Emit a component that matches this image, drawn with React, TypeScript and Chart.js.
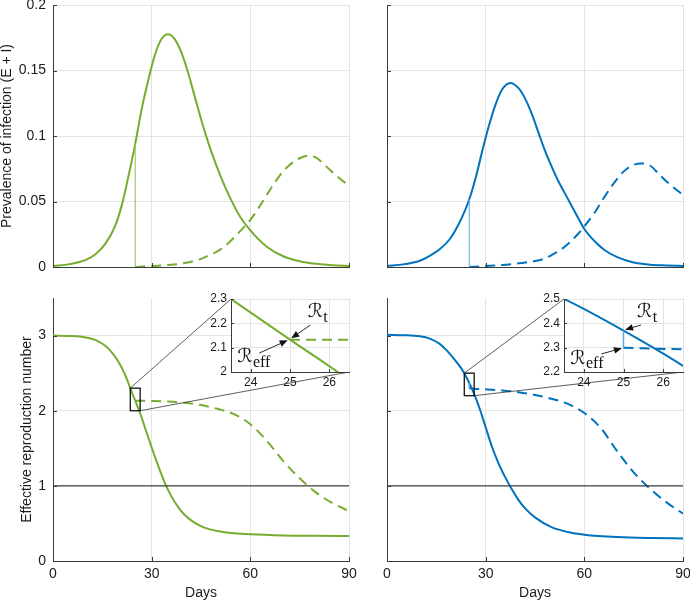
import React, { useEffect, useRef } from 'react';
import { Chart, registerables } from 'chart.js';
Chart.register(...registerables);

// ---------------- data ----------------
const dayTicks = [0, 30, 60, 90];
const dayTickLabels = ['0', '30', '60', '90'];
const prevTicks = [0, 0.05, 0.1, 0.15, 0.2];
const prevTickLabels = ['0', '0.05', '0.1', '0.15', '0.2'];
const rTicks = [0, 1, 2, 3];
const rTickLabels = ['0', '1', '2', '3'];
const insetDayTicks = [24, 25, 26];
const insetDayTickLabels = ['24', '25', '26'];
const greenInsetTicks = [2, 2.1, 2.2, 2.3];
const greenInsetTickLabels = ['2', '2.1', '2.2', '2.3'];
const blueInsetTicks = [2.2, 2.3, 2.4, 2.5];
const blueInsetTickLabels = ['2.2', '2.3', '2.4', '2.5'];

const dayRange = [0, 90];
const prevRange = [0, 0.2];
const rRange = [0, 3.5];
const insetDayRange = [23.5, 26.5];
const greenInsetRange = [2, 2.3];
const blueInsetRange = [2.2, 2.5];
const interventionDay = 25;
const threshold = 1;

// Green scenario – prevalence
const greenPrevDays = [0, 5, 10, 13, 16, 19, 21, 23, 25, 27, 29, 31, 33, 35, 37, 39, 41, 43, 45, 48, 51, 54, 57, 60, 65, 70, 75, 80, 85, 90];
const greenPrevSolid = [0.0008, 0.0022, 0.0055, 0.010, 0.018, 0.032, 0.048, 0.070, 0.094, 0.121, 0.143, 0.162, 0.174, 0.1777, 0.174, 0.164, 0.149, 0.131, 0.113, 0.089, 0.069, 0.052, 0.038, 0.028, 0.0155, 0.0082, 0.0044, 0.0024, 0.0013, 0.0008];
const greenPrevDashDays = [25, 30, 35, 40, 45, 48, 50, 53, 56, 60, 63, 66, 69, 72, 75, 77.5, 80, 83, 86, 90];
const greenPrevDash = [0, 0.0008, 0.0015, 0.003, 0.0062, 0.0095, 0.012, 0.0175, 0.025, 0.036, 0.047, 0.059, 0.070, 0.078, 0.083, 0.085, 0.0835, 0.077, 0.070, 0.062];

// Blue scenario – prevalence
const bluePrevDays = [0, 5, 10, 13, 16, 19, 21, 23, 25, 27, 29, 31, 33, 35, 37.5, 40, 42, 44, 46, 48, 50, 52, 55, 58, 60, 63, 66, 70, 75, 80, 85, 90];
const bluePrevSolid = [0.0008, 0.002, 0.0048, 0.0085, 0.0135, 0.021, 0.029, 0.039, 0.0515, 0.0685, 0.089, 0.108, 0.124, 0.1355, 0.1405, 0.1365, 0.1285, 0.117, 0.103, 0.089, 0.077, 0.066, 0.052, 0.038, 0.029, 0.020, 0.0132, 0.0075, 0.0034, 0.0018, 0.0012, 0.0008];
const bluePrevDashDays = [25, 30, 35, 40, 45, 48, 50, 53, 55, 58, 60, 63, 66, 69, 72, 75, 77.6, 80, 83, 86, 90];
const bluePrevDash = [0, 0.0007, 0.0015, 0.0028, 0.0045, 0.0065, 0.009, 0.0135, 0.0175, 0.025, 0.031, 0.041, 0.053, 0.064, 0.073, 0.078, 0.079, 0.0775, 0.070, 0.063, 0.055];

// Green scenario – effective reproduction number
const greenRDays = [0, 5, 10, 13, 16, 18, 20, 22, 23.5, 25, 26.5, 28, 30, 32, 34, 36, 38, 40, 43, 46, 50, 55, 60, 70, 80, 90];
const greenRSolid = [3.0, 2.995, 2.975, 2.94, 2.86, 2.77, 2.645, 2.47, 2.30, 2.133, 1.966, 1.77, 1.51, 1.265, 1.04, 0.86, 0.72, 0.615, 0.51, 0.445, 0.40, 0.37, 0.355, 0.34, 0.335, 0.333];
const greenRDashDays = [25, 26.5, 30, 35, 40, 45, 50, 55, 60, 65, 70, 75, 80, 85, 90];
const greenRDash = [2.133, 2.132, 2.13, 2.122, 2.105, 2.075, 2.025, 1.955, 1.82, 1.60, 1.33, 1.10, 0.91, 0.77, 0.665];

// Blue scenario – effective reproduction number
const blueRDays = [0, 5, 10, 13, 16, 18, 20, 22, 23.5, 25, 26.5, 28, 30, 32, 34, 36, 38, 40, 42, 45, 50, 55, 60, 70, 80, 90];
const blueRSolid = [3.01, 3.005, 2.99, 2.96, 2.89, 2.81, 2.71, 2.60, 2.50, 2.37, 2.225, 2.05, 1.78, 1.51, 1.29, 1.11, 0.95, 0.81, 0.70, 0.58, 0.45, 0.385, 0.35, 0.318, 0.305, 0.30];
const blueRDashDays = [25, 26.5, 30, 35, 40, 45, 50, 55, 60, 65, 70, 75, 80, 85, 90];
const blueRDash = [2.30, 2.293, 2.285, 2.27, 2.245, 2.21, 2.16, 2.09, 1.97, 1.77, 1.46, 1.18, 0.96, 0.78, 0.63];

// ---------------- style / layout ----------------
const FONT = 'Helvetica, "Liberation Sans", Arial, sans-serif';
const GREEN = '#77AC30';
const GREEN_LIGHT = '#8fc24f';
const BLUE = '#0072BD';
const BLUE_LIGHT = '#5aa9dc';
const GRID = '#e3e3e3';
const AXIS = '#3a3a3a';
const TEXT = '#1a1a1a';

const G: any = {
  tl: { cl: 0, ct: 0, cw: 360, ch: 290, left: 53, top: 5, right: 349, bottom: 267 },
  tr: { cl: 345, ct: 0, cw: 345, ch: 290, left: 387, top: 5, right: 683, bottom: 267 },
  bl: { cl: 0, ct: 290, cw: 360, ch: 313, left: 53, top: 298, right: 349, bottom: 561 },
  br: { cl: 345, ct: 290, cw: 345, ch: 313, left: 387, top: 298, right: 683, bottom: 561 },
  il: { cl: 190, ct: 288, cw: 165, ch: 108, left: 231, top: 299, right: 349, bottom: 372 },
  ir: { cl: 524, ct: 288, cw: 166, ch: 108, left: 564, top: 299, right: 683, bottom: 372 },
};

const valAt = (days: number[], vals: number[], d: number) => vals[days.indexOf(d)];

function series(days: number[], vals: number[], color: string, dash: number[] = [], width = 2) {
  return {
    data: days.map((d, i) => ({ x: d, y: vals[i] })),
    borderColor: color,
    borderWidth: width,
    borderDash: dash,
    pointRadius: 0,
    fill: false,
    cubicInterpolationMode: 'monotone',
  };
}
function segment(x0: number, y0: number, x1: number, y1: number, color: string, width = 1) {
  return { data: [{ x: x0, y: y0 }, { x: x1, y: y1 }], borderColor: color, borderWidth: width, pointRadius: 0, fill: false, tension: 0 };
}

function drawArrow(ctx: CanvasRenderingContext2D, x1: number, y1: number, x2: number, y2: number) {
  const a = Math.atan2(y2 - y1, x2 - x1);
  const L = 8, W = 3.3;
  const bx = x2 - L * Math.cos(a), by = y2 - L * Math.sin(a);
  ctx.beginPath(); ctx.moveTo(x1, y1); ctx.lineTo(bx, by); ctx.stroke();
  ctx.beginPath(); ctx.moveTo(x2, y2);
  ctx.lineTo(bx + W * Math.sin(a), by - W * Math.cos(a));
  ctx.lineTo(bx - W * Math.sin(a), by + W * Math.cos(a));
  ctx.closePath(); ctx.fill();
}

function makeDecor(cfg: any) {
  return {
    id: 'decor',
    beforeDraw(chart: any) {
      if (!cfg.white) return;
      const { ctx, chartArea: a } = chart;
      ctx.save(); ctx.fillStyle = '#fff';
      ctx.fillRect(a.left, a.top, a.right - a.left, a.bottom - a.top);
      ctx.restore();
    },
    afterDraw(chart: any) {
      const { ctx, chartArea: a } = chart;
      const xs = chart.scales.x, ys = chart.scales.y;
      ctx.save();
      ctx.strokeStyle = AXIS; ctx.lineWidth = 1;
      ctx.beginPath();
      for (const v of cfg.xTicks) {
        const px = Math.round(xs.getPixelForValue(v)) + 0.5;
        ctx.moveTo(px, a.bottom); ctx.lineTo(px, a.bottom - cfg.tickLen);
      }
      for (const v of cfg.yTicks) {
        const py = Math.round(ys.getPixelForValue(v)) + 0.5;
        ctx.moveTo(a.left, py); ctx.lineTo(a.left + cfg.tickLen, py);
      }
      ctx.stroke();
      if (cfg.zoom) {
        const z = cfg.zoom;
        const inset = z.get();
        const x0 = xs.getPixelForValue(z.xr[0]), x1 = xs.getPixelForValue(z.xr[1]);
        const y0 = ys.getPixelForValue(z.yr[1]), y1 = ys.getPixelForValue(z.yr[0]);
        ctx.strokeStyle = '#111'; ctx.lineWidth = 1.3;
        ctx.strokeRect(x0, y0, x1 - x0, y1 - y0);
        if (inset) {
          const ia = inset.chartArea;
          ctx.strokeStyle = '#333'; ctx.lineWidth = 0.8;
          ctx.beginPath();
          ctx.moveTo(x0, y0); ctx.lineTo(ia.left + z.dx, ia.top + z.dy);
          ctx.moveTo(x1, y1); ctx.lineTo(ia.right + z.dx, ia.bottom + z.dy);
          ctx.stroke();
        }
      }
      if (cfg.notes) {
        ctx.strokeStyle = '#111'; ctx.fillStyle = '#111'; ctx.lineWidth = 0.9;
        for (const n of cfg.notes) {
          drawArrow(ctx, xs.getPixelForValue(n.sx), ys.getPixelForValue(n.sy), xs.getPixelForValue(n.ex), ys.getPixelForValue(n.ey));
          const px = xs.getPixelForValue(n.tx), py = ys.getPixelForValue(n.ty);
          ctx.textBaseline = 'middle'; ctx.textAlign = 'left';
          ctx.font = '19px "DejaVu Serif", "DejaVu Sans", serif';
          ctx.fillText(n.main, px, py);
          const w = ctx.measureText(n.main).width;
          ctx.font = '16px "Liberation Serif", "DejaVu Serif", serif';
          ctx.fillText(n.sub, px + w + 0.5, py + 5);
        }
      }
      ctx.restore();
    },
  };
}

function buildConfig(g: any, o: any) {
  const font = { family: FONT, size: o.fontSize, lineHeight: 1 };
  return {
    type: 'line',
    data: { datasets: o.datasets },
    options: {
      animation: false,
      responsive: false,
      devicePixelRatio: 1,
      events: [],
      layout: { padding: { left: 0, bottom: 0, top: g.top - g.ct, right: g.cl + g.cw - g.right } },
      plugins: { legend: { display: false }, tooltip: { enabled: false } },
      scales: {
        x: {
          type: 'linear', bounds: 'data', min: o.xr[0], max: o.xr[1],
          afterBuildTicks: (s: any) => { s.ticks = o.xTicks.map((v: number) => ({ value: v })); },
          afterFit: (s: any) => { s.height = g.ct + g.ch - g.bottom; s.paddingLeft = 0; s.paddingRight = 0; },
          ticks: { display: o.xLabels, autoSkip: false, maxRotation: 0, padding: o.xPad, color: TEXT, font, callback: (_v: any, i: number) => o.xTickLabels[i] },
          grid: { color: GRID, lineWidth: 1, drawTicks: false },
          border: { display: true, color: AXIS, width: 1 },
          title: { display: !!o.xTitle, text: o.xTitle || '', color: TEXT, font: { family: FONT, size: 14, lineHeight: 1 }, padding: { top: 0, bottom: o.xTitlePad || 0 } },
        },
        y: {
          type: 'linear', bounds: 'data', min: o.yr[0], max: o.yr[1],
          afterBuildTicks: (s: any) => { s.ticks = o.yTicks.map((v: number) => ({ value: v })); },
          afterFit: (s: any) => { s.width = g.left - g.cl; s.paddingTop = 0; s.paddingBottom = 0; },
          ticks: { display: o.yLabels, autoSkip: false, padding: o.yPad, color: TEXT, font, callback: (_v: any, i: number) => o.yTickLabels[i] },
          grid: { color: GRID, lineWidth: 1, drawTicks: false },
          border: { display: true, color: AXIS, width: 1 },
          title: { display: !!o.yTitle, text: o.yTitle || '', color: TEXT, font: { family: FONT, size: 14, lineHeight: 1 }, padding: { top: o.yTitlePad || 0, bottom: 0 } },
        },
      },
    },
    plugins: [makeDecor(o.decor)],
  };
}

export default function App() {
  const tl = useRef<HTMLCanvasElement>(null);
  const tr = useRef<HTMLCanvasElement>(null);
  const bl = useRef<HTMLCanvasElement>(null);
  const br = useRef<HTMLCanvasElement>(null);
  const il = useRef<HTMLCanvasElement>(null);
  const ir = useRef<HTMLCanvasElement>(null);

  useEffect(() => {
    const charts: any[] = [];
    const gPrev25 = valAt(greenPrevDays, greenPrevSolid, interventionDay);
    const bPrev25 = valAt(bluePrevDays, bluePrevSolid, interventionDay);
    const gR25 = valAt(greenRDays, greenRSolid, interventionDay);
    const gRe25 = valAt(greenRDashDays, greenRDash, interventionDay);
    const bR25 = valAt(blueRDays, blueRSolid, interventionDay);
    const bRe25 = valAt(blueRDashDays, blueRDash, interventionDay);

    const greenR = () => [
      segment(interventionDay, gRe25, interventionDay, gR25, GREEN_LIGHT, 1.5),
      series(greenRDays, greenRSolid, GREEN),
      series(greenRDashDays, greenRDash, GREEN, [10, 6]),
    ];
    const blueR = () => [
      segment(interventionDay, bRe25, interventionDay, bR25, BLUE_LIGHT, 1.5),
      series(blueRDays, blueRSolid, BLUE),
      series(blueRDashDays, blueRDash, BLUE, [10, 6]),
    ];

    // insets first (main charts read their chart areas)
    const insetL = new Chart(il.current as any, buildConfig(G.il, {
      datasets: greenR(), fontSize: 12, xr: insetDayRange, yr: greenInsetRange,
      xTicks: insetDayTicks, xTickLabels: insetDayTickLabels, yTicks: greenInsetTicks, yTickLabels: greenInsetTickLabels,
      xLabels: true, yLabels: true, xPad: 5, yPad: 4,
      decor: {
        white: true, xTicks: insetDayTicks, yTicks: greenInsetTicks, tickLen: 3,
        notes: [
          { main: 'ℛ', sub: 't', tx: 25.45, ty: 2.245, sx: 25.52, sy: 2.193, ex: 25.03, ey: 2.139 },
          { main: 'ℛ', sub: 'eff', tx: 23.66, ty: 2.06, sx: 24.22, sy: 2.078, ex: 24.94, ey: 2.13 },
        ],
      },
    }) as any);
    const insetR = new Chart(ir.current as any, buildConfig(G.ir, {
      datasets: blueR(), fontSize: 12, xr: insetDayRange, yr: blueInsetRange,
      xTicks: insetDayTicks, xTickLabels: insetDayTickLabels, yTicks: blueInsetTicks, yTickLabels: blueInsetTickLabels,
      xLabels: true, yLabels: true, xPad: 5, yPad: 4,
      decor: {
        white: true, xTicks: insetDayTicks, yTicks: blueInsetTicks, tickLen: 3,
        notes: [
          { main: 'ℛ', sub: 't', tx: 25.34, ty: 2.445, sx: 25.44, sy: 2.393, ex: 25.04, ey: 2.374 },
          { main: 'ℛ', sub: 'eff', tx: 23.66, ty: 2.253, sx: 24.44, sy: 2.274, ex: 24.96, ey: 2.298 },
        ],
      },
    }) as any);
    charts.push(insetL, insetR);

    charts.push(new Chart(tl.current as any, buildConfig(G.tl, {
      datasets: [
        segment(interventionDay, 0, interventionDay, gPrev25, GREEN_LIGHT, 1),
        series(greenPrevDays, greenPrevSolid, GREEN),
        series(greenPrevDashDays, greenPrevDash, GREEN, [10, 6]),
      ],
      fontSize: 14, xr: dayRange, yr: prevRange, xTicks: dayTicks, xTickLabels: dayTickLabels,
      yTicks: prevTicks, yTickLabels: prevTickLabels, xLabels: false, yLabels: true, xPad: 6, yPad: 7,
      yTitle: 'Prevalence of infection (E + I)', yTitlePad: 0,
      decor: { xTicks: dayTicks, yTicks: prevTicks, tickLen: 4 },
    }) as any));
    charts.push(new Chart(tr.current as any, buildConfig(G.tr, {
      datasets: [
        segment(interventionDay, 0, interventionDay, bPrev25, BLUE_LIGHT, 1),
        series(bluePrevDays, bluePrevSolid, BLUE),
        series(bluePrevDashDays, bluePrevDash, BLUE, [10, 6]),
      ],
      fontSize: 14, xr: dayRange, yr: prevRange, xTicks: dayTicks, xTickLabels: dayTickLabels,
      yTicks: prevTicks, yTickLabels: prevTickLabels, xLabels: false, yLabels: false, xPad: 6, yPad: 7,
      decor: { xTicks: dayTicks, yTicks: prevTicks, tickLen: 4 },
    }) as any));
    charts.push(new Chart(bl.current as any, buildConfig(G.bl, {
      datasets: [segment(dayRange[0], threshold, dayRange[1], threshold, '#404040', 1.2), ...greenR()],
      fontSize: 14, xr: dayRange, yr: rRange, xTicks: dayTicks, xTickLabels: dayTickLabels,
      yTicks: rTicks, yTickLabels: rTickLabels, xLabels: true, yLabels: true, xPad: 6, yPad: 7,
      yTitle: 'Effective reproduction number', yTitlePad: 20, xTitle: 'Days', xTitlePad: 3,
      decor: {
        xTicks: dayTicks, yTicks: rTicks, tickLen: 4,
        zoom: { get: () => insetL, dx: G.il.cl - G.bl.cl, dy: G.il.ct - G.bl.ct, xr: insetDayRange, yr: greenInsetRange },
      },
    }) as any));
    charts.push(new Chart(br.current as any, buildConfig(G.br, {
      datasets: [segment(dayRange[0], threshold, dayRange[1], threshold, '#404040', 1.2), ...blueR()],
      fontSize: 14, xr: dayRange, yr: rRange, xTicks: dayTicks, xTickLabels: dayTickLabels,
      yTicks: rTicks, yTickLabels: rTickLabels, xLabels: true, yLabels: false, xPad: 6, yPad: 7,
      xTitle: 'Days', xTitlePad: 3,
      decor: {
        xTicks: dayTicks, yTicks: rTicks, tickLen: 4,
        zoom: { get: () => insetR, dx: G.ir.cl - G.br.cl, dy: G.ir.ct - G.br.ct, xr: insetDayRange, yr: blueInsetRange },
      },
    }) as any));
    return () => charts.forEach((c) => c.destroy());
  }, []);

  const cv = (ref: any, g: any, z: number) => (
    <canvas ref={ref} width={g.cw} height={g.ch}
      style={{ position: 'absolute', left: g.cl, top: g.ct, width: g.cw, height: g.ch, zIndex: z }} />
  );

  return (
    <div style={{ position: 'absolute', left: 0, top: 0, width: 690, height: 603, background: '#fff', overflow: 'hidden' }}>
      {cv(tl, G.tl, 1)}
      {cv(tr, G.tr, 1)}
      {cv(bl, G.bl, 1)}
      {cv(br, G.br, 1)}
      {cv(il, G.il, 2)}
      {cv(ir, G.ir, 2)}
    </div>
  );
}
